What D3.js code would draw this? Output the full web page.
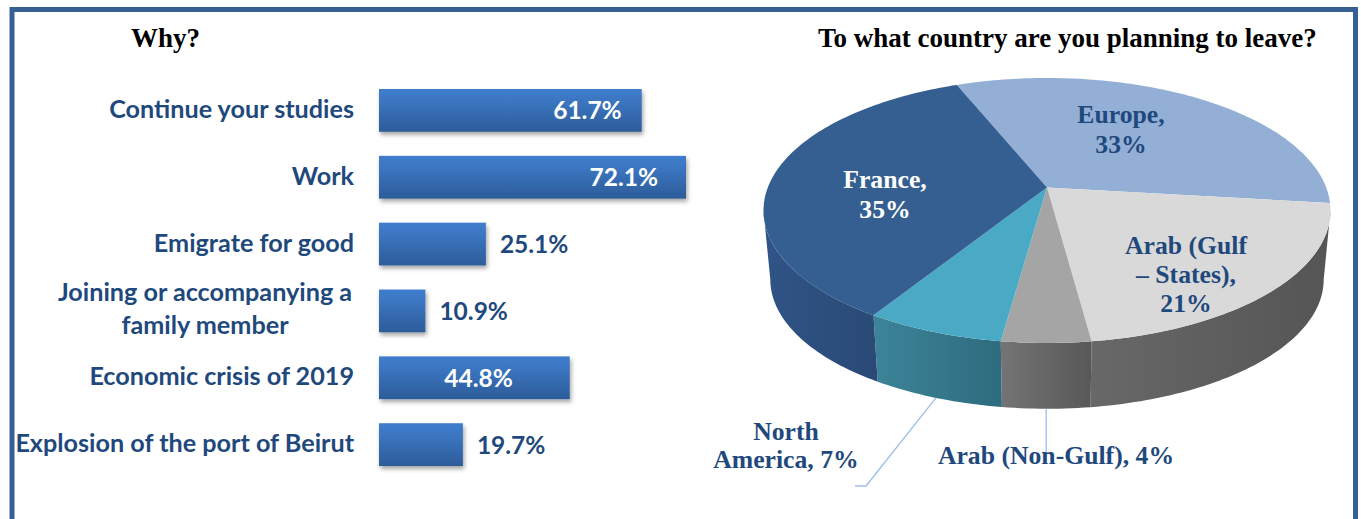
<!DOCTYPE html>
<html>
<head>
<meta charset="utf-8">
<script src="https://d3js.org/d3.v7.min.js"></script>
<style>
html, body { margin: 0; padding: 0; background: #fff; overflow: hidden; }
svg { display: block; }
.title { font: bold 27px "Liberation Serif", serif; fill: #000; }
.cat { font: bold 25.2px Lato, sans-serif; fill: #1f497d; }
.val { font: bold 24.5px Lato, sans-serif; }
.slice-label { font: bold 25.7px "Liberation Serif", serif; text-anchor: middle; }
.leader { fill: none; stroke: #9dbfe6; stroke-width: 1.3; }
</style>
</head>
<body>
<svg width="1361" height="519"></svg>
<script>
// left chart
var reasons = ["Continue your studies", "Work", "Emigrate for good", "Joining or accompanying a family member", "Economic crisis of 2019", "Explosion of the port of Beirut"];
var reasonValues = [61.7, 72.1, 25.1, 10.9, 44.8, 19.7];

// right chart, clockwise from the Europe slice
// labels are rounded (4%, 7%), the two small slices are read from their drawn size
var countries = ["Europe", "Arab (Gulf – States)", "Arab (Non-Gulf)", "North America", "France"];
var countryValues = [33, 21, 4.3, 6.7, 35];

const svg = d3.select("svg");
const defs = svg.append("defs");

// frame
svg.append("path")
    .attr("d", "M12,519 V9.5 H1355.5 V519")
    .attr("fill", "none")
    .attr("stroke", "#376092")
    .attr("stroke-width", 5);

svg.append("text").attr("class", "title").attr("x", 131).attr("y", 47).text("Why?");
svg.append("text").attr("class", "title").attr("x", 818).attr("y", 47).text("To what country are you planning to leave?");

// ---- bars ----
const barGrad = defs.append("linearGradient").attr("id", "barGrad")
    .attr("x1", 0).attr("y1", 0).attr("x2", 0).attr("y2", 1);
barGrad.append("stop").attr("offset", "0%").attr("stop-color", "#3f7dcd");
barGrad.append("stop").attr("offset", "30%").attr("stop-color", "#3b75c0");
barGrad.append("stop").attr("offset", "100%").attr("stop-color", "#2c5c99");

const shadow = defs.append("filter").attr("id", "barShadow")
    .attr("x", "-10%").attr("y", "-10%").attr("width", "125%").attr("height", "130%");
shadow.append("feDropShadow").attr("dx", 1.5).attr("dy", 3).attr("stdDeviation", 2)
    .attr("flood-color", "#000").attr("flood-opacity", 0.35);

const xScale = d3.scaleLinear().domain([0, 72.1]).range([379, 686]);
const yScale = d3.scaleBand().domain(reasons).range([89, 466]).paddingInner(0.36);

const bars = svg.append("g");
bars.selectAll("rect")
    .data(reasons)
    .enter()
    .append("rect")
    .attr("x", xScale(0))
    .attr("y", d => yScale(d))
    .attr("width", (d, i) => xScale(reasonValues[i]) - xScale(0))
    .attr("height", yScale.bandwidth())
    .attr("fill", "url(#barGrad)")
    .attr("filter", "url(#barShadow)");

// category labels come from the axis, no line or ticks shown
const yAxis = svg.append("g")
    .attr("transform", "translate(379,0)")
    .call(d3.axisLeft(yScale).tickSize(0).tickPadding(25));
yAxis.select(".domain").remove();
yAxis.selectAll("text")
    .attr("class", "cat")
    .attr("dy", "0.3em")
    .each(function(d) {
        if (d.indexOf("Joining") != 0) return;
        // two line label, second line is centered under the first
        const t = d3.select(this).text(null).attr("text-anchor", "middle");
        t.append("tspan").attr("x", -174).attr("dy", "-0.39em").text("Joining or accompanying a");
        t.append("tspan").attr("x", -174).attr("dy", "1.3em").text("family member");
    });

// value labels: long bars hold them inside, short ones outside
const insideGap = { "61.7": 20, "72.1": 28, "44.8": 57 };
bars.selectAll("text")
    .data(reasonValues)
    .enter()
    .append("text")
    .attr("class", "val")
    .attr("x", d => insideGap[d] ? xScale(d) - insideGap[d] : xScale(d) + 14)
    .attr("y", (d, i) => yScale(reasons[i]) + yScale.bandwidth() / 2 + 9)
    .attr("text-anchor", d => insideGap[d] ? "end" : "start")
    .attr("fill", d => insideGap[d] ? "#fff" : "#1f497d")
    .text(d => d.toFixed(1) + "%");

// ---- 3d pie ----
const topColors = ["#93afd6", "#d9d9d9", "#a5a5a5", "#4aaac6", "#365f91"];
const sideColors = [["#5f7ca0", "#506a8c"], ["#686868", "#555555"], ["#747474", "#585858"], ["#3c8499", "#2e6b7e"], ["#2f5486", "#2a4a76"]];

sideColors.forEach(function(c, i) {
    const g = defs.append("linearGradient").attr("id", "side" + i);
    g.append("stop").attr("offset", "0%").attr("stop-color", c[0]);
    g.append("stop").attr("offset", "100%").attr("stop-color", c[1]);
});

const slices = d3.pie()
    .sort(null)
    .startAngle(-22 * Math.PI / 180)
    .endAngle(338 * Math.PI / 180)(countryValues);

// perspective projection of the pie disc, near edge looks bigger
const pieX = 1047, pieY = 187.5, pieA = 279.2, pieB = 128.5, tilt = 0.1736;
function project(angle, scale, drop) {
    const u = Math.sin(angle), v = -Math.cos(angle), w = 1 - tilt * v;
    return [pieX + scale * pieA * u / w, pieY + drop + scale * pieB * v / w];
}
function rim(a0, a1, scale, drop) {
    const n = Math.max(2, Math.ceil(Math.abs(a1 - a0) / 0.02));
    return d3.range(n + 1).map(i => project(a0 + (a1 - a0) * i / n, scale, drop));
}
const line = d3.line();
const bottomScale = 0.976, bottomDrop = 69.5;

// the wall runs between the two points where the disc is widest.
// past them the quads flip direction and punch holes in the fill
const wallFrom = Math.acos(-tilt), wallTo = 2 * Math.PI - wallFrom;
function wall(d) {
    const a0 = Math.max(d.startAngle, wallFrom), a1 = Math.min(d.endAngle, wallTo);
    if (a1 <= a0) return null;
    const top = rim(a0, a1, 1, 0), bottom = rim(a0, a1, bottomScale, bottomDrop);
    return top.slice(1).map((p, i) => line([top[i], p, bottom[i + 1], bottom[i]]) + "Z").join("");
}

const pie = svg.append("g");
// sides first, the top disc covers whatever is at the back
pie.selectAll(".side")
    .data(slices)
    .enter()
    .append("path")
    .attr("class", "side")
    .attr("fill", (d, i) => "url(#side" + i + ")")
    .attr("d", wall);

pie.selectAll(".top")
    .data(slices)
    .enter()
    .append("path")
    .attr("class", "top")
    .attr("fill", (d, i) => topColors[i])
    .attr("d", d => line([[pieX, pieY]].concat(rim(d.startAngle, d.endAngle, 1, 0))) + "Z");

// leader lines start on the bottom rim at the middle of the slice
function midRim(i) {
    return project((slices[i].startAngle + slices[i].endAngle) / 2, bottomScale, bottomDrop);
}
const naStart = midRim(3), ngStart = midRim(2);
svg.append("path").attr("class", "leader")
    .attr("d", line([naStart, [866, 486], [855, 486]]));
svg.append("path").attr("class", "leader")
    .attr("d", line([ngStart, [ngStart[0], 453]]));

// pie labels
const pieLabels = [
    { lines: ["Europe,", "33%"], x: 1121, y: [123, 153], color: "#1f497d" },
    { lines: ["France,", "35%"], x: 885, y: [188, 218], color: "#fff" },
    { lines: ["Arab (Gulf", "– States),", "21%"], x: 1186, y: [254, 283, 312], color: "#1f497d" },
    { lines: ["North", "America, 7%"], x: 786, y: [440, 468], color: "#1f497d" },
    { lines: ["Arab (Non-Gulf), 4%"], x: 1056, y: [464], color: "#1f497d" }
];
pieLabels.forEach(function(l) {
    l.lines.forEach(function(s, i) {
        svg.append("text").attr("class", "slice-label")
            .attr("x", l.x).attr("y", l.y[i]).attr("fill", l.color).text(s);
    });
});
</script>
</body>
</html>
